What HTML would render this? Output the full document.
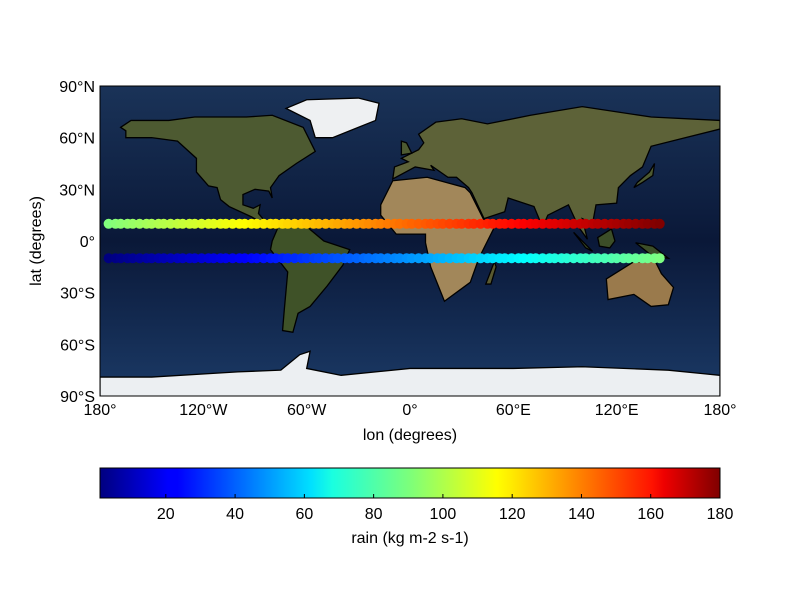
<!DOCTYPE html>
<html><head><meta charset="utf-8"><style>
body{margin:0;background:#fff;}
svg text{font-family:"Liberation Sans",sans-serif;font-size:16px;fill:#000;}
</style></head><body>
<svg id="chart" width="800" height="600" viewBox="0 0 800 600">
<defs>
<linearGradient id="oc" x1="0" y1="0" x2="0" y2="1">
<stop offset="0" stop-color="#1a3358"/><stop offset="0.5" stop-color="#0a1838"/><stop offset="1" stop-color="#1b3a66"/>
</linearGradient>
<clipPath id="mapclip"><rect x="100" y="86" width="620" height="310"/></clipPath>
<linearGradient id="jet" x1="0" y1="0" x2="1" y2="0">
<stop offset="0" stop-color="#00007f"/><stop offset="0.11" stop-color="#0000ff"/><stop offset="0.125" stop-color="#0000ff"/>
<stop offset="0.34" stop-color="#00e0ff"/><stop offset="0.375" stop-color="#1affe0"/><stop offset="0.5" stop-color="#7dff7a"/>
<stop offset="0.64" stop-color="#ffff00"/><stop offset="0.66" stop-color="#ffee00"/><stop offset="0.89" stop-color="#ff1300"/>
<stop offset="0.91" stop-color="#ee0000"/><stop offset="1" stop-color="#7f0000"/>
</linearGradient>
</defs>
<g clip-path="url(#mapclip)">
<rect x="100" y="86" width="620" height="310" fill="url(#oc)"/>
<g id="land"></g>
</g>
<rect x="100" y="86" width="620" height="310" fill="none" stroke="#000" stroke-width="1"/>
<g id="pts"></g>
<g id="axes"></g>
<text x="410" y="440" text-anchor="middle">lon (degrees)</text>
<text x="0" y="0" transform="translate(41,241) rotate(-90)" text-anchor="middle">lat (degrees)</text>
<rect x="100" y="468" width="620" height="30" fill="url(#jet)" stroke="#000" stroke-width="1"/>
<g id="cbticks"></g>
<text x="410" y="543" text-anchor="middle">rain (kg m-2 s-1)</text>
</svg>
<script>
const lons=[-175,-171,-168,-164,-161,-157,-153,-150,-146,-143,-139,-135,-132,-128,-125,-121,-117,-114,-110,-107,-103,-99,-96,-92,-89,-85,-81,-78,-74,-71,-67,-63,-60,-56,-53,-49,-45,-42,-38,-35,-31,-27,-24,-20,-17,-13,-9,-6,-2,1,5,9,12,16,19,23,27,30,34,37,41,45,48,52,55,59,63,66,70,73,77,81,84,88,91,95,99,102,106,109,113,117,120,124,127,131,135,138,142,145];
const rowLats=[-10,10];
const valuesSouth=[1,2,3,4,5,6,7,8,9,10,11,12,13,14,15,16,17,18,19,20,21,22,23,24,25,26,27,28,29,30,31,32,33,34,35,36,37,38,39,40,41,42,43,44,45,46,47,48,49,50,51,52,53,54,55,56,57,58,59,60,61,62,63,64,65,66,67,68,69,70,71,72,73,74,75,76,77,78,79,80,81,82,83,84,85,86,87,88,89,90];
const valuesNorth=[91,92,93,94,95,96,97,98,99,100,101,102,103,104,105,106,107,108,109,110,111,112,113,114,115,116,117,118,119,120,121,122,123,124,125,126,127,128,129,130,131,132,133,134,135,136,137,138,139,140,141,142,143,144,145,146,147,148,149,150,151,152,153,154,155,156,157,158,159,160,161,162,163,164,165,166,167,168,169,170,171,172,173,174,175,176,177,178,179,180];
const xTicks=[-180,-120,-60,0,60,120,180];
const xTickLabels=["180°","120°W","60°W","0°","60°E","120°E","180°"];
const yTicks=[90,60,30,0,-30,-60,-90];
const yTickLabels=["90°N","60°N","30°N","0°","30°S","60°S","90°S"];
const cbTicks=[20,40,60,80,100,120,140,160,180];
const vmin=1,vmax=180;
const NS="http://www.w3.org/2000/svg";
const X=lon=>100+(lon+180)/360*620;
const Y=lat=>241-lat/180*310;
const C=v=>100+(v-vmin)/(vmax-vmin)*620;
function jet(t){
 const cl=v=>Math.max(0,Math.min(1,v));
 const r=cl(Math.min(4*t-1.5,-4*t+4.5)),g=cl(Math.min(4*t-0.5,-4*t+3.5)),b=cl(Math.min(4*t+0.5,-4*t+2.5));
 return `rgb(${Math.round(r*255)},${Math.round(g*255)},${Math.round(b*255)})`;
}
function mk(tag,attrs,parent){const e=document.createElementNS(NS,tag);for(const k in attrs)e.setAttribute(k,attrs[k]);parent.appendChild(e);return e;}
const shapes=[
 ["north-america","#4d5a31",[[-168,66],[-162,70],[-140,70],[-125,72],[-95,72],[-80,73],[-62,66],[-55,52],[-66,45],[-76,38],[-81,31],[-80,25],[-82,29],[-90,30],[-97,27],[-97,21],[-91,19],[-87,21],[-88,16],[-83,10],[-78,8],[-80,7],[-85,10],[-92,14],[-105,20],[-110,24],[-112,31],[-117,32],[-124,40],[-124,48],[-135,58],[-150,60],[-165,60],[-165,64]]],
 ["south-america","#3f5228",[[-78,8],[-72,12],[-62,10],[-50,0],[-35,-5],[-39,-14],[-48,-26],[-58,-38],[-65,-42],[-68,-53],[-74,-52],[-73,-40],[-71,-18],[-81,-5],[-80,0],[-77,7]]],
 ["greenland","#eef0f2",[[-55,60],[-45,60],[-20,70],[-18,80],[-30,83],[-60,82],[-72,77],[-58,70]]],
 ["africa","#a2875a",[[-17,21],[-10,35],[10,37],[32,31],[35,28],[43,12],[51,12],[40,-10],[35,-24],[20,-35],[18,-30],[12,-15],[9,-1],[9,4],[-8,4],[-17,15]]],
 ["eurasia","#5d6238",[[-10,36],[-9,43],[-1,46],[-5,48],[5,53],[8,57],[5,62],[15,69],[30,71],[45,68],[70,73],[100,78],[140,72],[180,70],[180,65],[160,60],[140,55],[135,43],[128,38],[121,31],[120,22],[108,21],[106,10],[100,13],[103,1],[98,8],[92,21],[80,15],[77,8],[72,20],[57,25],[55,17],[43,13],[36,28],[34,31],[27,37],[22,37],[12,44],[14,41],[3,43]]],
 ["australia","#9a7a4c",[[114,-22],[130,-12],[137,-12],[142,-11],[146,-19],[153,-27],[150,-37],[140,-38],[130,-31],[115,-34]]],
 ["borneo","#3c4e28",[[109,2],[117,7],[119,0],[116,-4],[110,-3]]],
 ["sumatra","#3c4e28",[[95,5],[106,-6],[102,-4]]],
 ["new-guinea","#3c4e28",[[131,-1],[141,-3],[150,-10],[141,-9]]],
 ["madagascar","#5a5a30",[[44,-25],[47,-25],[50,-15],[49,-12]]],
 ["uk","#4d5a31",[[-5,50],[1,51],[-2,57],[-5,58]]],
 ["japan","#4d5a31",[[130,31],[135,34],[141,38],[142,45],[139,40],[132,34]]],
 ["antarctica","#eceff2",[[-180,-79],[-150,-79],[-100,-76],[-75,-75],[-64,-66],[-58,-64],[-60,-74],[-40,-78],[0,-74],[60,-74],[100,-73],[150,-75],[170,-77],[180,-78],[180,-92],[-180,-92]]]
];
const land=document.getElementById('land');
shapes.forEach(s=>{
 const p=mk('polygon',{points:s[2].map(q=>X(q[0])+','+Y(q[1])).join(' '),fill:s[1],stroke:'#000','stroke-width':1.3},land);
 
 
});
const pts=document.getElementById('pts');
[[valuesSouth,rowLats[0]],[valuesNorth,rowLats[1]]].forEach(([vals,lat])=>{
 vals.forEach((v,i)=>{
  const c=mk('circle',{cx:X(lons[i]),cy:Y(lat),r:5,fill:jet((v-vmin)/(vmax-vmin))},pts);
  
  
 });
});
const ax=document.getElementById('axes');
xTicks.forEach((t,i)=>{
 const tx=mk('text',{x:X(t),y:415,'text-anchor':'middle'},ax);tx.textContent=xTickLabels[i];
 
 
});
yTicks.forEach((t,i)=>{
 const tx=mk('text',{x:95,y:Y(t)+6,'text-anchor':'end'},ax);tx.textContent=yTickLabels[i];
 
 
});
const cb=document.getElementById('cbticks');
cbTicks.forEach(t=>{
 const l=mk('line',{x1:C(t),x2:C(t),y1:498,y2:494,stroke:'#000'},cb);
 
 
 const tx=mk('text',{x:C(t),y:519,'text-anchor':'middle'},cb);tx.textContent=t;
 
 
});
</script>
</body></html>
